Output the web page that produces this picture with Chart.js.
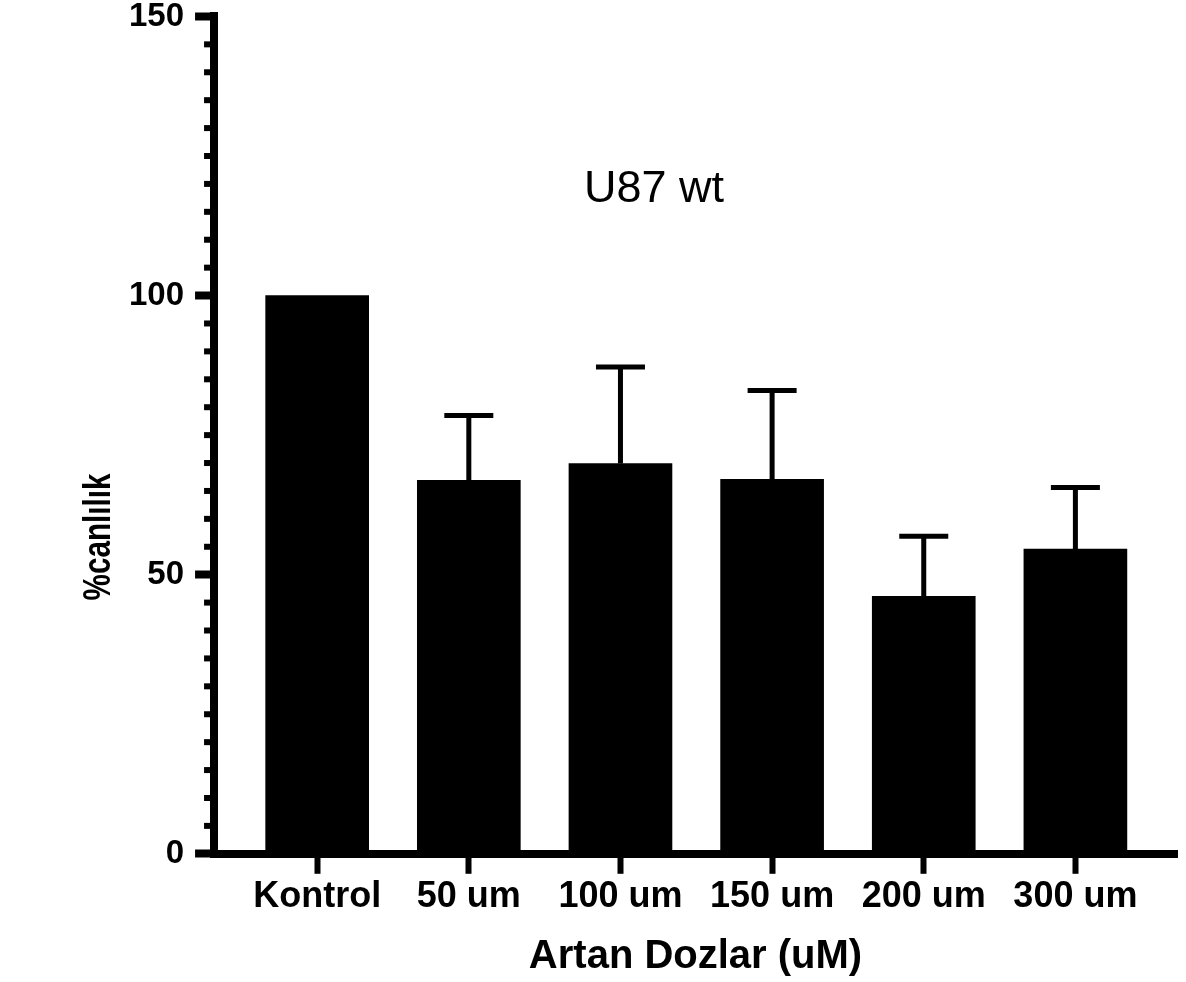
<!DOCTYPE html>
<html>
<head>
<meta charset="utf-8">
<title>U87 wt</title>
<script src="https://cdn.jsdelivr.net/npm/chart.js@4/dist/chart.umd.min.js"></script>
<style>
  html, body { margin: 0; padding: 0; background: #fff; }
  #chart { display: block; }
</style>
</head>
<body>
<canvas id="chart" width="1186" height="982"></canvas>
<script>
const categories = ['Kontrol', '50 um', '100 um', '150 um', '200 um', '300 um'];
const viability = [100, 66.9, 69.9, 67.1, 46.1, 54.6];
const errorUp = [0, 11.6, 17.3, 15.9, 10.8, 11.0];
const yMajorTicks = [0, 50, 100, 150];
const yMinorStep = 5;

const FONT = "'Liberation Sans', Arial, Helvetica, sans-serif";

// GraphPad-style short minor ticks on the y axis
const minorTicks = {
  id: 'minorTicks',
  afterDraw(chart) {
    const y = chart.scales.y;
    const ctx = chart.ctx;
    const left = chart.chartArea.left;
    ctx.save();
    ctx.strokeStyle = '#000';
    ctx.lineWidth = 6;
    for (let v = y.min + yMinorStep; v < y.max; v += yMinorStep) {
      if (yMajorTicks.includes(v)) continue;
      const py = y.getPixelForValue(v);
      ctx.beginPath();
      ctx.moveTo(left - 10, py);
      ctx.lineTo(left, py);
      ctx.stroke();
    }
    ctx.restore();
  }
};

// upward-only error bars (mean + SD)
const errorBars = {
  id: 'errorBars',
  afterDatasetsDraw(chart) {
    const meta = chart.getDatasetMeta(0);
    const y = chart.scales.y;
    const ctx = chart.ctx;
    ctx.save();
    ctx.strokeStyle = '#000';
    ctx.lineWidth = 5;
    meta.data.forEach((bar, i) => {
      if (!errorUp[i]) return;
      const top = y.getPixelForValue(viability[i] + errorUp[i]);
      ctx.beginPath();
      ctx.moveTo(bar.x, bar.y);
      ctx.lineTo(bar.x, top);
      ctx.moveTo(bar.x - 24.5, top);
      ctx.lineTo(bar.x + 24.5, top);
      ctx.stroke();
    });
    ctx.restore();
  }
};

// in-plot title and rotated y title
const labels = {
  id: 'labels',
  afterDraw(chart) {
    const ctx = chart.ctx;
    ctx.save();
    ctx.fillStyle = '#000';
    ctx.textAlign = 'center';
    ctx.textBaseline = 'middle';
    ctx.font = `45px ${FONT}`;
    ctx.fillText('U87 wt', 654, 190);
    ctx.translate(100, 537);
    ctx.rotate(-Math.PI / 2);
    ctx.scale(0.78, 1);
    ctx.font = `bold 38px ${FONT}`;
    ctx.fillText('%canlılık', 0, 0);
    ctx.restore();
  }
};

new Chart(document.getElementById('chart'), {
  type: 'bar',
  data: {
    datasets: [{
      data: viability.map((v, i) => ({ x: i, y: v })),
      backgroundColor: '#000',
      borderWidth: 0,
      barThickness: 103
    }]
  },
  options: {
    responsive: false,
    animation: false,
    devicePixelRatio: 1,
    layout: { padding: { top: 5, right: 9, bottom: 0, left: 118 } },
    plugins: {
      legend: { display: false },
      tooltip: { enabled: false }
    },
    scales: {
      x: {
        type: 'linear',
        offset: false,
        min: -0.68,
        max: 5.67,
        afterBuildTicks: (scale) => { scale.ticks = categories.map((c, i) => ({ value: i })); },
        ticks: {
          callback: (v) => categories[v],
          color: '#000',
          font: { family: FONT, size: 36, weight: 'bold' },
          padding: 2,
          maxRotation: 0,
          autoSkip: false
        },
        grid: {
          offset: false,
          drawOnChartArea: false,
          tickLength: 20,
          tickWidth: 6,
          tickColor: '#000'
        },
        border: { color: '#000', width: 8 },
        title: {
          display: true,
          text: 'Artan Dozlar (uM)',
          color: '#000',
          font: { family: FONT, size: 40, weight: 'bold' },
          padding: { top: 12, bottom: 1 }
        }
      },
      y: {
        min: 0,
        max: 150,
        afterBuildTicks: (scale) => { scale.ticks = yMajorTicks.map(v => ({ value: v })); },
        ticks: {
          color: '#000',
          font: { family: FONT, size: 33, weight: 'bold', lineHeight: 0.33 },
          padding: 11
        },
        grid: {
          drawOnChartArea: false,
          tickLength: 19,
          tickWidth: 8,
          tickColor: '#000'
        },
        border: { color: '#000', width: 8 }
      }
    }
  },
  plugins: [minorTicks, errorBars, labels]
});
</script>
</body>
</html>
